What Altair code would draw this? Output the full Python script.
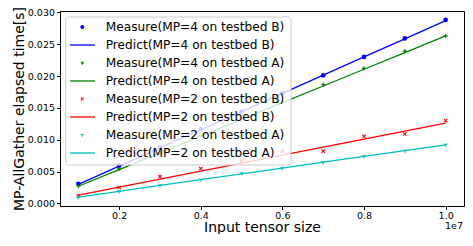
import altair as alt
import pandas as pd

sizes = [1e6, 2e6, 3e6, 4e6, 5e6, 6e6, 7e6, 8e6, 9e6, 1e7]

meas_b4 = [0.00309, 0.00593, 0.0088, 0.0117, 0.0144, 0.0173, 0.0201, 0.0230, 0.0259, 0.0288]
pred_b4 = [0.0030, 0.00586, 0.00871, 0.01157, 0.01442, 0.01728, 0.02013, 0.02299, 0.02584, 0.0287]
meas_a4 = [0.00273, 0.00542, 0.0080, 0.0107, 0.0134, 0.0160, 0.01866, 0.0212, 0.0239, 0.0263]
pred_a4 = [0.0027, 0.00532, 0.00794, 0.01057, 0.01319, 0.01581, 0.01843, 0.02106, 0.02368, 0.0263]
meas_b2 = [0.0012, 0.0025, 0.00423, 0.00548, 0.00667, 0.00816, 0.0082, 0.01055, 0.0109, 0.0130]
pred_b2 = [0.0013, 0.00256, 0.00381, 0.00507, 0.00632, 0.00758, 0.00883, 0.01009, 0.01134, 0.0126]
meas_a2 = [0.0010, 0.0019, 0.00284, 0.00373, 0.00473, 0.00557, 0.00646, 0.0074, 0.00825, 0.0092]
pred_a2 = [0.0010, 0.00191, 0.00282, 0.00373, 0.00464, 0.00556, 0.00647, 0.00738, 0.00829, 0.0092]

names = [
    "Measure(MP=4 on testbed B)", "Predict(MP=4 on testbed B)",
    "Measure(MP=4 on testbed A)", "Predict(MP=4 on testbed A)",
    "Measure(MP=2 on testbed B)", "Predict(MP=2 on testbed B)",
    "Measure(MP=2 on testbed A)", "Predict(MP=2 on testbed A)",
]
colors = ["#0000ff", "#0000ff", "#008000", "#008000", "#ff0000", "#ff0000", "#00bfbf", "#00bfbf"]
kinds = ["circle", "line", "plus", "line", "x", "line", "tri", "line"]
series_vals = [meas_b4, pred_b4, meas_a4, pred_a4, meas_b2, pred_b2, meas_a2, pred_a2]

PLUS = "M-1,0L1,0M0,-1L0,1"
XSHAPE = "M-0.8,-0.8L0.8,0.8M-0.8,0.8L0.8,-0.8"
TRI = "M0,0L0,1M0,0L-0.87,-0.5M0,0L0.87,-0.5"
shape_of = {"plus": PLUS, "x": XSHAPE, "tri": TRI}

rows = []
for n, k, vals in zip(names, kinds, series_vals):
    for s, v in zip(sizes, vals):
        rows.append({"size": s, "t": v, "series": n, "kind": k})
df = pd.DataFrame(rows)

xs = alt.Scale(domain=[0.055e7, 1.045e7], nice=False, zero=False)
ys = alt.Scale(domain=[-0.0004, 0.0302], nice=False, zero=False)
cscale = alt.Scale(domain=names, range=colors)

X = alt.X("size:Q", scale=xs,
          axis=alt.Axis(values=[2e6, 4e6, 6e6, 8e6, 1e7],
                        labelExpr="format(datum.value/1e7, '.1f')",
                        title="Input tensor size", titleFontSize=14,
                        titleFontWeight="normal", titleY=25.5, titleBaseline="alphabetic",
                        labelFontSize=9.5, labelPadding=0.5))
Y = alt.Y("t:Q", scale=ys,
          axis=alt.Axis(values=[0, 0.005, 0.01, 0.015, 0.02, 0.025, 0.03], format=".3f",
                        title="MP-AllGather elapsed time[s]", titleFontSize=14,
                        titleFontWeight="normal", titlePadding=1,
                        labelFontSize=9.5, labelPadding=2))

base = alt.Chart(df)

circles = base.transform_filter(alt.datum.kind == "circle").mark_circle(size=22, opacity=1).encode(
    x=X, y=Y, color=alt.Color("series:N", scale=cscale, legend=None))

other_names = [n for n, k in zip(names, kinds) if k in shape_of]
other_shapes = [shape_of[k] for k in kinds if k in shape_of]
strokes = base.transform_filter(
    (alt.datum.kind != "circle") & (alt.datum.kind != "line")
).mark_point(filled=False, size=18, strokeWidth=1.1, opacity=1).encode(
    x=X, y=Y,
    color=alt.Color("series:N", scale=cscale, legend=None),
    shape=alt.Shape("series:N", scale=alt.Scale(domain=other_names, range=other_shapes), legend=None))

lines = base.transform_filter(alt.datum.kind == "line").mark_line(strokeWidth=1.3).encode(
    x=X, y=Y, color=alt.Color("series:N", scale=cscale, legend=None))

# legend
leg = pd.DataFrame({"name": names, "kind": kinds, "row": list(range(8))})
leg["ly"] = 16.0 + 18.0 * leg["row"]
lbase = alt.Chart(leg)

box = alt.Chart(pd.DataFrame({"a": [0]})).mark_rect(
    fill="white", fillOpacity=0.8, stroke="#cccccc", strokeWidth=1, cornerRadius=3
).encode(x=alt.value(5.7), x2=alt.value(231), y=alt.value(6.0), y2=alt.value(154))

leg_lines = lbase.transform_filter(alt.datum.kind == "line").mark_rule(strokeWidth=1.3).encode(
    x=alt.value(10), x2=alt.value(35), y=alt.Y("ly:Q", scale=None),
    color=alt.Color("name:N", scale=cscale, legend=None))
leg_circ = lbase.transform_filter(alt.datum.kind == "circle").mark_circle(size=16, opacity=1).encode(
    x=alt.value(22.3), y=alt.Y("ly:Q", scale=None),
    color=alt.Color("name:N", scale=cscale, legend=None))
leg_pts = lbase.transform_filter(
    (alt.datum.kind != "circle") & (alt.datum.kind != "line")
).mark_point(filled=False, size=12, strokeWidth=1.1, opacity=1).encode(
    x=alt.value(22.3), y=alt.Y("ly:Q", scale=None),
    color=alt.Color("name:N", scale=cscale, legend=None),
    shape=alt.Shape("name:N", scale=alt.Scale(domain=other_names, range=other_shapes), legend=None))
leg_text = lbase.mark_text(align="left", baseline="middle", fontSize=12.2, font="DejaVu Sans",
                           color="black").encode(
    x=alt.value(45.7), y=alt.Y("ly:Q", scale=None), text="name:N")

offset = alt.Chart(pd.DataFrame({"t": ["1e7"]})).mark_text(
    align="right", baseline="middle", fontSize=9.5, font="DejaVu Sans", color="black"
).encode(x=alt.value(403), y=alt.value(215), text="t:N")

chart = alt.layer(circles, strokes, lines, box, leg_lines, leg_circ, leg_pts, leg_text, offset).properties(
    width=404, height=195,
    padding={"left": 52, "top": 3, "right": 1, "bottom": 28},
    autosize=alt.AutoSizeParams(type="none"),
).configure_view(stroke="black", strokeWidth=1).configure_axis(
    domainColor="black", tickColor="black", labelColor="black", titleColor="black",
    grid=False, tickSize=3.5, labelFont="DejaVu Sans", titleFont="DejaVu Sans",
    domainWidth=1, tickWidth=1)

chart.save("out.html", embed_options={"renderer": "svg", "actions": False})
